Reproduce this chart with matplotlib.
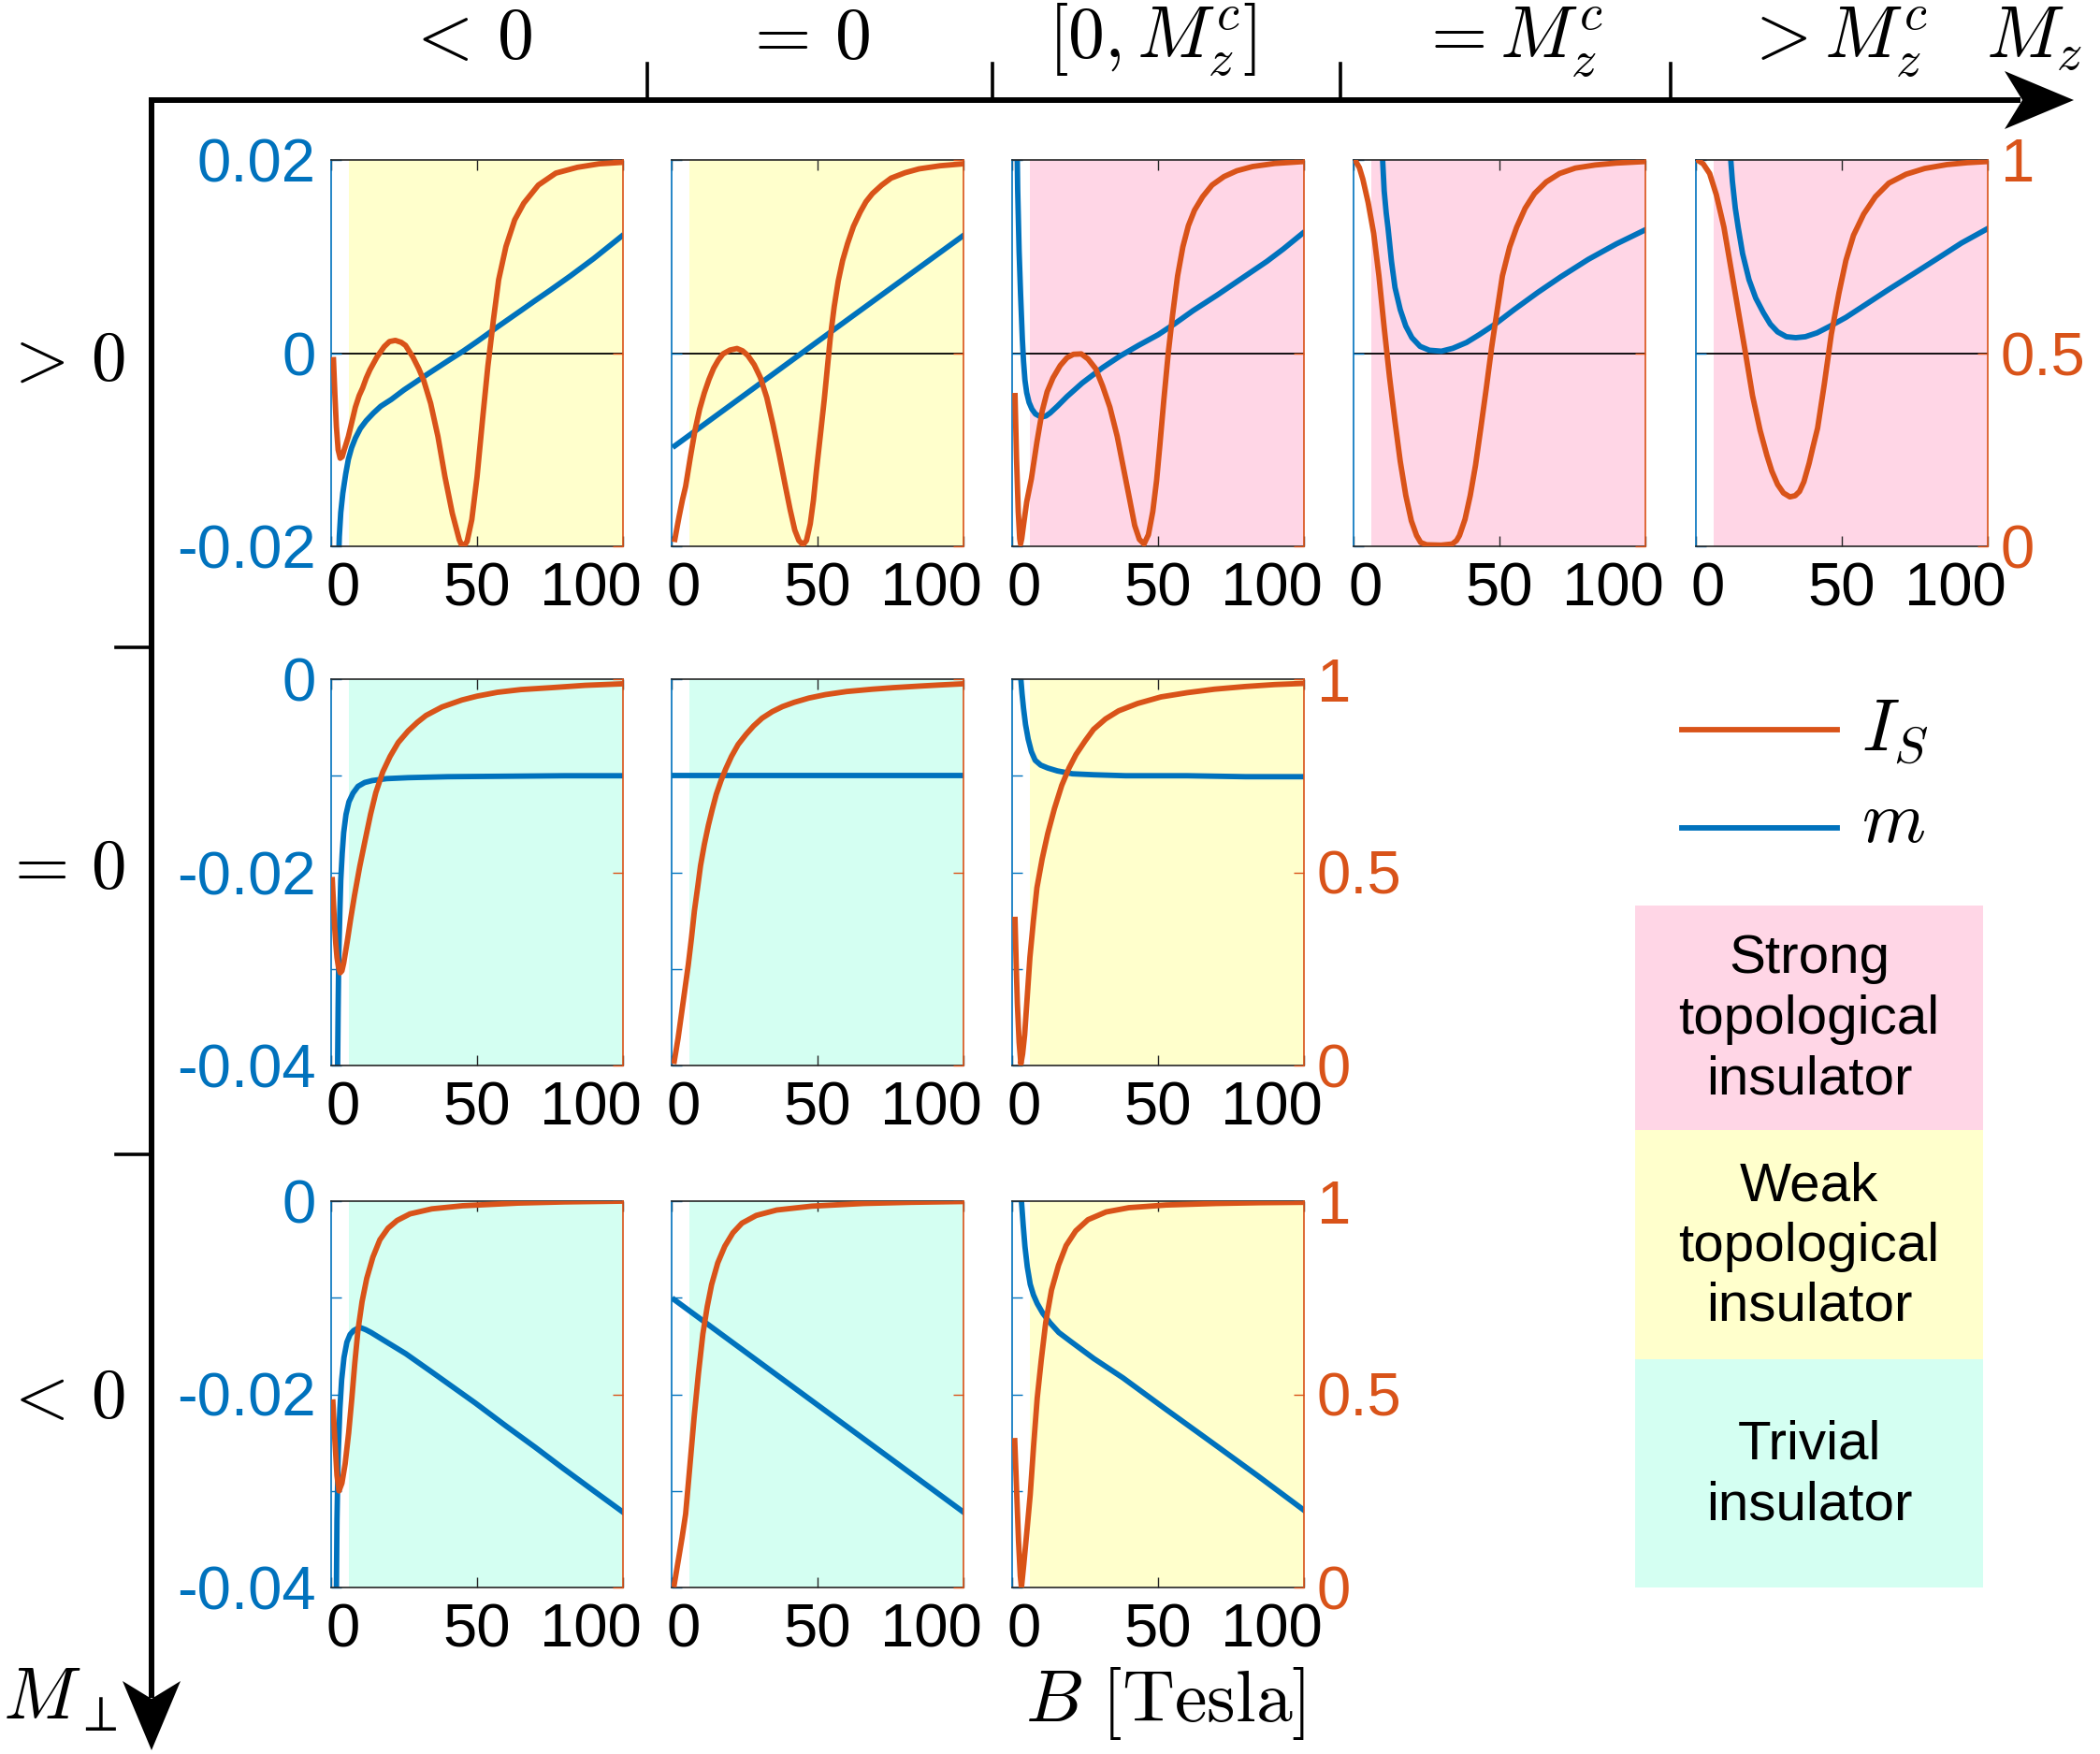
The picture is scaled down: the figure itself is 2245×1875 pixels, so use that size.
import matplotlib
matplotlib.use("Agg")
import matplotlib.pyplot as plt
from matplotlib.patches import Polygon, Rectangle
from matplotlib.transforms import ScaledTranslation

plt.rcParams['font.family'] = ['Liberation Sans', 'DejaVu Sans']
plt.rcParams['mathtext.fontset'] = 'cm'

ORANGE = '#D95319'
BLUE = '#0072BD'
EDGE = '#262626'
phase_colors = {'strong': '#FFD6E6', 'weak': '#FFFFCC', 'trivial': '#D4FFF2'}

# headings
col_labels = [r'$<\,0$', r'$=\,0$', r'$[0,M_z^c]$', r'$=M_z^c$', r'$>M_z^c$']
row_labels = [r'$>\,0$', r'$=\,0$', r'$<\,0$']
phase_names = ['Strong\ntopological\ninsulator', 'Weak\ntopological\ninsulator', 'Trivial\ninsulator']
xtick_vals = [0, 50, 100]
xtick_txt = ['0', '50', '100']
shade_start = 6  # B where the coloured phase starts

# curves, (B [T], value); I_S on right axis, m on left axis
# row 1: M_perp > 0
p11_is = [(0.8, 0.483), (1.3, 0.39), (1.8, 0.31), (2.4, 0.25), (3.1, 0.228), (3.8, 0.232), (4.5, 0.25),
          (5.9, 0.284), (7.2, 0.325), (8.3, 0.36), (9.6, 0.39), (10.8, 0.41), (12, 0.435), (13.3, 0.457),
          (15.7, 0.49), (18.2, 0.517), (20, 0.53), (22, 0.533), (24, 0.528), (25.5, 0.52), (28, 0.49),
          (30, 0.46), (31.7, 0.43), (34.1, 0.37), (36.6, 0.284), (39, 0.18), (41.5, 0.086), (43.9, 0.017),
          (44.6, 0.005), (45.2, 0.0), (45.9, 0.005), (46.6, 0.013), (48.2, 0.069), (50, 0.18), (51.9, 0.33),
          (53.7, 0.466), (55.6, 0.586), (57.4, 0.69), (59.9, 0.776), (62.9, 0.845), (66, 0.888), (71, 0.935),
          (77, 0.966), (84.4, 0.981), (91.8, 0.99), (100, 0.994)]
p11_m = [(2.5, -0.022), (2.8, -0.019), (3.3, -0.0165), (4, -0.0145), (5, -0.0125), (5.9, -0.011),
         (7, -0.0098), (8.3, -0.0088), (10, -0.0078), (12, -0.007), (14.5, -0.0062), (17, -0.0055),
         (20.6, -0.0048), (25, -0.0038), (32.9, -0.0022), (40, -0.0008), (45.2, 0.0002), (50, 0.0012),
         (57.4, 0.0028), (65, 0.0044), (69.7, 0.0054), (75, 0.0065), (82, 0.008), (90, 0.0098), (99.5, 0.0121)]

p12_is = [(1.1, 0.018), (2.5, 0.075), (3.7, 0.12), (4.8, 0.155), (6.4, 0.23), (8, 0.30), (9.6, 0.355),
          (11.2, 0.397), (12.8, 0.432), (14.4, 0.461), (16, 0.482), (17.6, 0.498), (20, 0.508), (22.4, 0.512),
          (24.3, 0.506), (26.1, 0.494), (28.3, 0.47), (30.4, 0.437), (32.6, 0.385), (34.7, 0.316), (36.8, 0.24),
          (39, 0.155), (40.6, 0.095), (42.2, 0.042), (43.6, 0.015), (45, 0.004), (46.2, 0.015), (47.5, 0.058),
          (48.6, 0.12), (49.6, 0.195), (51, 0.29), (52.3, 0.38), (53.4, 0.465), (54.4, 0.542), (55.7, 0.62),
          (57.1, 0.687), (58.6, 0.74), (60.3, 0.784), (62.3, 0.828), (64.6, 0.865), (66.6, 0.892), (68.8, 0.913),
          (72, 0.935), (75.2, 0.953), (80, 0.967), (84.8, 0.977), (92, 0.985), (99.8, 0.99)]
p12_m = [(1.1, -0.0096), (50, 0.0012), (99.6, 0.0121)]

p13_is = [(1, 0.39), (1.5, 0.23), (2.1, 0.09), (2.6, 0.02), (2.9, 0.006), (3.3, 0.02), (4, 0.06), (5, 0.115),
          (6.6, 0.175), (8.5, 0.27), (10.3, 0.35), (12, 0.40), (14, 0.436), (16.5, 0.468), (18.8, 0.488),
          (21, 0.497), (23.7, 0.498), (26, 0.485), (28.6, 0.46), (31, 0.415), (33.5, 0.36), (36, 0.285),
          (38.4, 0.193), (40.3, 0.12), (42, 0.054), (43.6, 0.018), (45.2, 0.006), (46.7, 0.03), (48.2, 0.09),
          (49.5, 0.17), (50.6, 0.26), (52, 0.38), (53.5, 0.50), (55, 0.60), (56.7, 0.70), (58.5, 0.775),
          (60.4, 0.83), (62.5, 0.87), (65.3, 0.905), (68.5, 0.935), (72.6, 0.957), (77, 0.972), (82.4, 0.983),
          (90, 0.991), (100, 0.996)]
p13_m = [(1.5, 0.026), (1.9, 0.017), (2.4, 0.0105), (2.9, 0.0061), (3.5, 0.0015), (3.9, -0.0008),
         (4.4, -0.0028), (5, -0.0041), (5.8, -0.0051), (6.8, -0.0058), (8, -0.0063), (9.2, -0.0065),
         (10.3, -0.0066), (11.6, -0.0065), (13, -0.0062), (15.5, -0.0055), (18.8, -0.0045), (24, -0.0031),
         (31, -0.0015), (37, -0.0003), (43.3, 0.0008), (50, 0.0019), (55.5, 0.003), (62, 0.0044),
         (70.2, 0.006), (78, 0.0076), (87.3, 0.0095), (93, 0.0108), (99.5, 0.0124)]

p14_is = [(0.5, 1.0), (2, 0.98), (3.2, 0.95), (5, 0.89), (6.9, 0.81), (8.7, 0.70), (10.5, 0.566), (12.3, 0.44),
          (14.2, 0.323), (16, 0.22), (17.9, 0.132), (19.8, 0.066), (21.6, 0.028), (23, 0.01), (25, 0.004),
          (30, 0.003), (33.8, 0.006), (35.3, 0.015), (36.3, 0.028), (38.2, 0.07), (40, 0.132), (41.8, 0.21),
          (43.6, 0.306), (45.5, 0.41), (47.3, 0.514), (49.2, 0.61), (51, 0.70), (53.5, 0.775), (55.9, 0.826),
          (58.8, 0.875), (62, 0.913), (66, 0.943), (70.6, 0.965), (76, 0.979), (82.8, 0.987), (90, 0.992),
          (100, 0.996)]
p14_m = [(9.8, 0.021), (10.5, 0.0168), (11.2, 0.0145), (11.8, 0.013), (13, 0.0095), (14.2, 0.0068),
         (16, 0.0045), (17.9, 0.0028), (20, 0.0016), (22.8, 0.0007), (26, 0.0003), (30.1, 0.0002), (34, 0.0005),
         (38.7, 0.0011), (43, 0.0019), (48.5, 0.003), (55, 0.0045), (63.2, 0.0063), (71, 0.0079), (80.4, 0.0097),
         (90, 0.0113), (99.5, 0.0127)]

p15_is = [(0.5, 1.0), (2.5, 0.99), (4.7, 0.965), (7, 0.91), (9.6, 0.826), (12, 0.72), (14.5, 0.61), (17, 0.50),
          (19.4, 0.39), (22, 0.30), (24.3, 0.236), (26, 0.195), (28, 0.16), (30, 0.138), (32.2, 0.128),
          (34, 0.131), (35.5, 0.142), (37, 0.167), (38.8, 0.215), (40.2, 0.26), (41.7, 0.306), (44, 0.42),
          (46.4, 0.549), (49, 0.655), (51.4, 0.74), (54, 0.805), (57.5, 0.86), (61.5, 0.905), (66.1, 0.94),
          (72, 0.963), (78.4, 0.978), (86, 0.988), (93, 0.993), (100, 0.996)]
p15_m = [(11.7, 0.021), (12.5, 0.0178), (13.5, 0.015), (14.5, 0.013), (16, 0.0103), (18.2, 0.0076),
         (20.5, 0.0057), (23.1, 0.0042), (25.5, 0.003), (28, 0.0022), (31, 0.0017), (34.2, 0.0016),
         (37.5, 0.0017), (41.5, 0.0021), (46, 0.0028), (51.4, 0.0037), (58, 0.005), (66.1, 0.0066),
         (75, 0.0083), (83.3, 0.0099), (91, 0.0114), (100, 0.0129)]

# row 2: M_perp = 0
p21_is = [(0.4, 0.481), (0.8, 0.42), (1.2, 0.36), (1.6, 0.315), (2, 0.28), (2.5, 0.255), (3.1, 0.24),
          (3.7, 0.245), (4.3, 0.265), (5.5, 0.32), (6.7, 0.38), (8, 0.44), (9.8, 0.515), (11.7, 0.585),
          (13.5, 0.65), (15.3, 0.706), (17.7, 0.76), (20.2, 0.80), (23, 0.836), (26.4, 0.866), (29.5, 0.888),
          (32.5, 0.906), (38, 0.928), (44.8, 0.946), (50, 0.956), (57, 0.966), (65, 0.973), (75.5, 0.978),
          (87, 0.984), (100, 0.988)]
p21_m = [(2.1, -0.044), (2.4, -0.034), (2.6, -0.0288), (3, -0.024), (3.3, -0.0208), (3.8, -0.018),
         (4.3, -0.0159), (5.1, -0.014), (6.1, -0.0127), (7.5, -0.0118), (9.2, -0.0111), (11.5, -0.0107),
         (14.1, -0.0105), (19, -0.0103), (26.4, -0.0102), (40, -0.0101), (60, -0.01005), (80, -0.01),
         (100, -0.01)]

p22_is = [(0.9, 0.011), (2.2, 0.07), (3.5, 0.14), (4.6, 0.2), (5.7, 0.26), (6.8, 0.33), (7.8, 0.40),
          (8.9, 0.46), (9.9, 0.517), (11.2, 0.572), (12.6, 0.622), (14, 0.665), (15.3, 0.702), (16.9, 0.737),
          (18.5, 0.767), (20.5, 0.80), (22.8, 0.831), (25.5, 0.857), (28.1, 0.879), (31, 0.899), (34.5, 0.916),
          (38, 0.929), (42, 0.94), (47, 0.951), (52.7, 0.96), (60, 0.968), (68.8, 0.974), (76, 0.978),
          (84.8, 0.982), (92, 0.985), (100, 0.988)]
p22_m = [(1, -0.01), (100, -0.01)]

p23_is = [(1, 0.378), (1.4, 0.26), (1.8, 0.16), (2.4, 0.06), (3, 0.004), (3.6, 0.03), (4.3, 0.08), (5.2, 0.18),
          (6.1, 0.28), (7.3, 0.375), (8.5, 0.46), (10.3, 0.535), (12.2, 0.60), (14.5, 0.665), (17, 0.725),
          (19.5, 0.77), (21.9, 0.805), (25, 0.84), (27.9, 0.87), (32, 0.897), (36.5, 0.918), (43, 0.937),
          (51, 0.954), (60, 0.965), (69.3, 0.974), (80, 0.981), (90, 0.986), (100, 0.989)]
p23_m = [(2.6, 0.002), (3, 0.0), (3.4, -0.0015), (3.9, -0.003), (4.6, -0.0047), (5.5, -0.0062), (6.6, -0.0075),
         (7.9, -0.0084), (9.8, -0.0089), (12.2, -0.0092), (15.5, -0.0095), (20.7, -0.0098), (28, -0.0099),
         (38.9, -0.01), (60, -0.01), (80, -0.0101), (100, -0.0101)]

# row 3: M_perp < 0
p31_is = [(0.6, 0.48), (1.3, 0.38), (2, 0.29), (2.7, 0.25), (3.7, 0.27), (4.8, 0.32), (6, 0.40), (7.1, 0.49),
          (8.1, 0.58), (9.2, 0.666), (10.6, 0.74), (12.2, 0.80), (14.3, 0.855), (16.7, 0.90), (19.5, 0.93),
          (22.6, 0.95), (27, 0.967), (34.5, 0.98), (45, 0.988), (64, 0.995), (80, 0.998), (100, 1.0)]
p31_m = [(1.7, -0.044), (2, -0.033), (2.4, -0.0264), (3, -0.0215), (3.6, -0.0185), (4.4, -0.0162),
         (5.4, -0.0146), (6.5, -0.0138), (7.7, -0.0134), (8.9, -0.0132), (10.1, -0.0131), (11.8, -0.0133),
         (13.7, -0.0136), (18, -0.0144), (25.6, -0.0158), (35, -0.0178), (49.4, -0.0209), (60, -0.0233),
         (70, -0.0255), (79.2, -0.0276), (90, -0.03), (100, -0.0322)]

p32_is = [(0.9, 0.008), (2.5, 0.08), (3.6, 0.13), (4.8, 0.19), (6.2, 0.31), (7.7, 0.44), (9.2, 0.555),
          (10.7, 0.656), (12.2, 0.727), (13.7, 0.784), (15.8, 0.84), (18.2, 0.883), (21, 0.918), (24.1, 0.943),
          (29, 0.963), (36, 0.977), (48, 0.987), (65.8, 0.994), (82, 0.997), (100, 0.999)]
p32_m = [(0.9, -0.0102), (100, -0.0322)]

p33_is = [(0.9, 0.38), (1.5, 0.26), (2.2, 0.12), (2.8, 0.03), (3.2, 0.0), (4, 0.06), (5, 0.14), (6.2, 0.24),
          (7.4, 0.37), (8.6, 0.49), (10, 0.59), (11.5, 0.685), (13.5, 0.77), (15.9, 0.834), (18.5, 0.885),
          (21.8, 0.923), (26, 0.952), (32.2, 0.972), (40, 0.983), (52.8, 0.99), (70, 0.994), (85, 0.996),
          (100, 0.997)]
p33_m = [(2.8, 0.003), (3.2, 0.0), (3.8, -0.0025), (4.4, -0.0047), (5.2, -0.0068), (6.2, -0.0086),
         (7.3, -0.0097), (8.6, -0.0106), (10.5, -0.0116), (13, -0.0126), (16, -0.0136), (20.4, -0.0146),
         (28, -0.0163), (38, -0.0183), (52, -0.0214), (67.6, -0.0248), (84, -0.0284), (100, -0.032)]

row_phases = [['weak', 'weak', 'strong', 'strong', 'strong'],
              ['trivial', 'trivial', 'weak'],
              ['trivial', 'trivial', 'weak']]
row_curves = [[(p11_is, p11_m), (p12_is, p12_m), (p13_is, p13_m), (p14_is, p14_m), (p15_is, p15_m)],
              [(p21_is, p21_m), (p22_is, p22_m), (p23_is, p23_m)],
              [(p31_is, p31_m), (p32_is, p32_m), (p33_is, p33_m)]]

# layout in pixels
W, H = 2245, 1875
col_x = [354, 718, 1082, 1447, 1813]
row_top = [171, 726, 1284]
PW, PH = 312, 413
LW = 4.2

fig = plt.figure(figsize=(W / 100, H / 100), dpi=100)

# overlay for the big arrows, headings and legend
ov = fig.add_axes([0, 0, 1, 1])
ov.set_xlim(0, W)
ov.set_ylim(H, 0)
ov.axis('off')
ov.plot([159, 2160], [107, 107], color='k', lw=4.3, solid_capstyle='butt')
ov.plot([162, 162], [104, 1815], color='k', lw=4.3, solid_capstyle='butt')
ov.add_patch(Polygon([(2217, 107), (2143, 76), (2162, 107), (2143, 138)], closed=True, color='k', lw=0))
ov.add_patch(Polygon([(162, 1871), (131, 1797), (162, 1816), (193, 1797)], closed=True, color='k', lw=0))
for x in [692, 1061, 1433, 1786]:
    ov.plot([x, x], [107, 68], color='k', lw=2.6)
for y in [692, 1234]:
    ov.plot([124, 162], [y, y], color='k', lw=2.6)

for x, t in zip([500, 861, 1231, 1615, 1962], col_labels):
    ov.text(x, 62, t, fontsize=56, ha='center', va='baseline')
ov.text(2174, 62, r'$M_z$', fontsize=56, ha='center', va='baseline')
for y, t in zip([406, 949, 1515], row_labels):
    ov.text(134, y, t, fontsize=54, ha='right', va='baseline')
ov.text(64, 1838, r'$M_\perp$', fontsize=56, ha='center', va='baseline')
ov.text(1246, 1840, r'$B\ [\mathrm{Tesla}]$', fontsize=56, ha='center', va='baseline')

# legend
ov.plot([1798, 1964], [780, 780], color=ORANGE, lw=LW)
ov.plot([1798, 1964], [885, 885], color=BLUE, lw=LW)
ov.text(1990, 802, r'$I_S$', fontsize=56, ha='left', va='baseline')
ov.text(1990, 900, r'$m$', fontsize=56, ha='left', va='baseline')
box_top = [968, 1208, 1453]
box_h = [240, 245, 244]
for name, key, yt, hb in zip(phase_names, ['strong', 'weak', 'trivial'], box_top, box_h):
    ov.add_patch(Rectangle((1748, yt), 372, hb, color=phase_colors[key], lw=0))
    ov.text(1934, yt + hb / 2 + 2, name, fontsize=42, ha='center', va='center',
            multialignment='center', linespacing=1.25)


def draw_panel(r, c, phase, is_pts, m_pts, last):
    left = col_x[c] / W
    bottom = 1 - (row_top[r] + PH) / H
    ax = fig.add_axes([left, bottom, PW / W, PH / H])
    ax2 = ax.twinx()

    ax.axvspan(shade_start, 100, color=phase_colors[phase], lw=0, zorder=0)
    if r == 0:
        ax.axhline(0, color='k', lw=1.3, zorder=1)
    bm, mv = zip(*m_pts)
    ax.plot(bm, mv, color=BLUE, lw=LW, zorder=2, solid_joinstyle='round')
    bi, iv = zip(*is_pts)
    ax2.plot(bi, iv, color=ORANGE, lw=LW, solid_joinstyle='round')

    ax.set_xlim(0, 100)
    ax2.set_ylim(0, 1)
    if r == 0:
        ax.set_ylim(-0.02, 0.02)
        ax.set_yticks([-0.02, 0, 0.02])
        ax.set_yticklabels(['-0.02', '0', '0.02'])
    else:
        ax.set_ylim(-0.04, 0)
        ax.set_yticks([-0.04, -0.03, -0.02, -0.01, 0])
        ax.set_yticklabels(['-0.04', '', '-0.02', '', '0'])
    ax2.set_yticks([0, 0.5, 1])
    ax2.set_yticklabels(['0', '0.5', '1'])

    for s in ['top', 'bottom']:
        ax.spines[s].set_color(EDGE)
        ax.spines[s].set_linewidth(1.2)
        ax2.spines[s].set_visible(False)
    ax.spines['left'].set_color(BLUE)
    ax.spines['left'].set_linewidth(1.2)
    ax.spines['right'].set_visible(False)
    ax2.spines['left'].set_visible(False)
    ax2.spines['right'].set_color(ORANGE)
    ax2.spines['right'].set_linewidth(1.2)

    ax.tick_params(axis='x', direction='in', top=True, length=8, width=1, color=EDGE,
                   labelsize=47, pad=12)
    ax.tick_params(axis='y', direction='in', length=8, width=1, color=BLUE,
                   labelcolor=BLUE, labelsize=47, pad=12, labelleft=(c == 0))
    ax2.tick_params(axis='y', direction='in', length=8, width=1, color=ORANGE,
                    labelcolor=ORANGE, labelsize=47, pad=10, labelright=last)

    ax.set_xticks(xtick_vals)
    ax.set_xticklabels(xtick_txt)
    labels = ax.get_xticklabels()
    shifts = [13, 0, -35]
    for lab, dx in zip(labels, shifts):
        lab.set_transform(lab.get_transform() + ScaledTranslation(dx / 100, 0, fig.dpi_scale_trans))


for r, (phases, curves) in enumerate(zip(row_phases, row_curves)):
    n = len(phases)
    for c in range(n):
        draw_panel(r, c, phases[c], curves[c][0], curves[c][1], c == n - 1)

fig.savefig('out.png', dpi=100)
